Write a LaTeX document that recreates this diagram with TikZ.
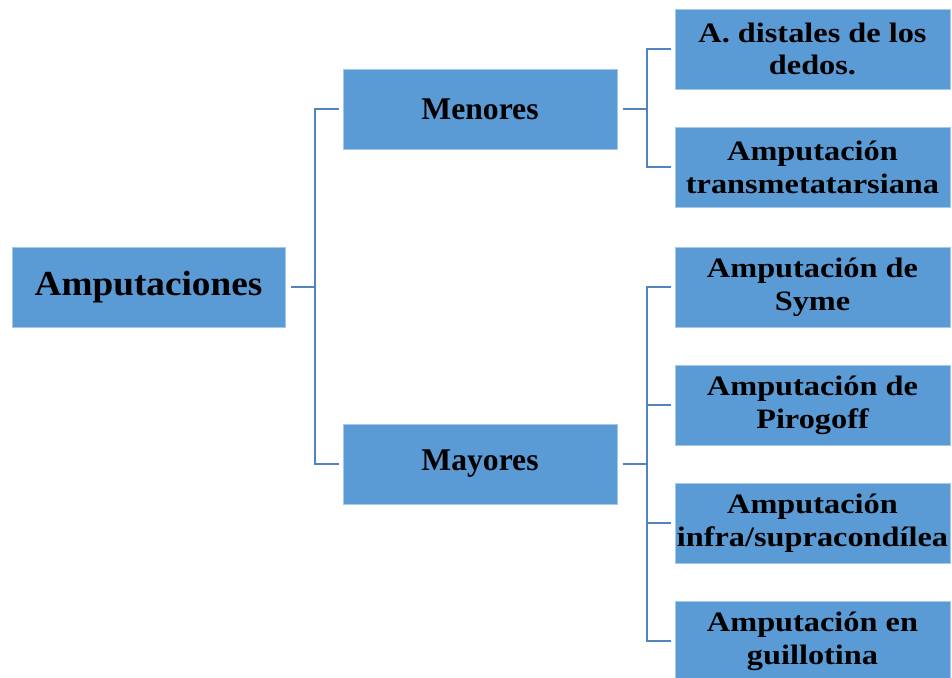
\documentclass[tikz,border=0pt]{standalone}
\usepackage{fontspec}
\setmainfont{Liberation Serif}
\newfontfamily\largafont[FakeStretch=1.15]{Liberation Serif}
\usepackage{tikz}
\usetikzlibrary{positioning}
\definecolor{boxblue}{HTML}{5B9BD5}
\definecolor{lineblue}{HTML}{5283BF}

\begin{document}
\begin{tikzpicture}[x=0.02cm, y=-0.02cm, line cap=butt, line join=miter]

    % Stili dei blocchi e dei collegamenti
    \tikzset{block/.style={draw=boxblue!55!white, line width=0.4pt, fill=boxblue, rectangle, minimum width=5.48cm, minimum height=1.6cm, align=center, inner sep=1pt, text=black, font=\bfseries\fontsize{18}{21}\selectfont}}
    \tikzset{leaf/.style={block, minimum width=5.5cm, font=\largafont\bfseries\fontsize{16}{18.7}\selectfont}}
    \tikzset{link/.style={draw=lineblue, line width=1.1pt}}

    \useasboundingbox (0,0) rectangle (952,678);

    % Radice
    \node[block, minimum width=5.46cm, font=\bfseries\fontsize{20}{23}\selectfont\addfontfeature{FakeStretch=1.06}] (amp) at (148.5,287) {Amputaciones};

    % Secondo livello
    \node[block] (men) at (480,109) {Menores};
    \node[block] (may) at (480,464) {Mayores};

    % Foglie (Menores)
    \node[leaf] (dist) at (812.5,49) {A. distales de los\\dedos.};
    \node[leaf] (trans) at (812.5,167) {Amputación\\transmetatarsiana};

    % Foglie (Mayores)
    \node[leaf] (syme) at (812.5,287) {Amputación de\\Syme};
    \node[leaf] (piro) at (812.5,405) {Amputación de\\Pirogoff};
    \node[leaf] (infra) at (812.5,523) {Amputación\\infra/supracondílea};
    \node[leaf] (guil) at (812.5,641) {Amputación en\\guillotina};

    % Punti di diramazione
    \coordinate (j0) at (315,287);
    \coordinate (j1) at (647,109);
    \coordinate (j2) at (647,464);

    % Collegamenti
    \draw[link, shorten <=3pt] (amp.east) -- (j0);
    \draw[link, shorten >=2pt] (j0) |- (men.west);
    \draw[link, shorten >=2pt] (j0) |- (may.west);

    \draw[link, shorten <=3pt] (men.east) -- (j1);
    \draw[link, shorten >=2pt] (j1) |- (dist.west);
    \draw[link, shorten >=2pt] (j1) |- (trans.west);

    \draw[link, shorten <=3pt] (may.east) -- (j2);
    \draw[link, shorten >=2pt] (j2) |- (syme.west);
    \draw[link, shorten >=2pt] (j2) |- (piro.west);
    \draw[link, shorten >=2pt] (j2) |- (infra.west);
    \draw[link, shorten >=2pt] (j2) |- (guil.west);

\end{tikzpicture}
\end{document}
